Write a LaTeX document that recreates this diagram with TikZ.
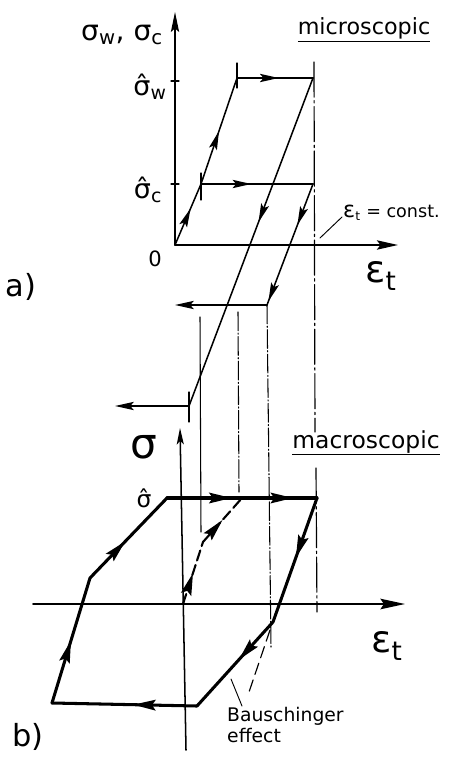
\documentclass[tikz,border=0pt]{standalone}
\usepackage{fontspec}
\setmainfont{DejaVu Sans}
\usetikzlibrary{arrows.meta,decorations.markings}

\tikzset{
  marr/.style={postaction={decorate,decoration={markings,
      mark=at position #1 with {\arrow{Stealth[length=16pt,width=7pt,inset=3pt]}}}}},
  barr/.style={postaction={decorate,decoration={markings,
      mark=at position #1 with {\arrow{Stealth[length=19pt,width=9pt,inset=3pt]}}}}},
  axis/.style={line width=1.3pt},
  micro/.style={line width=1.3pt},
  macro/.style={line width=2.6pt},
  proj/.style={line width=0.9pt,dash pattern=on 16pt off 2pt on 1pt off 2pt},
  lbl/.style={inner sep=0pt,font=\fontsize{#1}{#1}\selectfont}
}

\begin{document}
\begin{tikzpicture}[x=0.03cm,y=-0.03cm,line cap=round,line join=round]
  \useasboundingbox (0,0) rectangle (453,762);
  % a) microscopic
  \coordinate (O) at (175,245);
  \coordinate (Otop) at (175,12);
  \coordinate (Oend) at (398,245);
  \coordinate (Cc) at (201,184);
  \coordinate (Ww) at (237,78);
  \coordinate (Wr) at (313,78);
  \coordinate (Cr) at (313,184);
  \coordinate (Cb) at (267,305);
  \coordinate (Wb) at (189,406);
  \coordinate (Cl) at (175,305);
  \coordinate (Wl) at (115,406);
  \draw[axis,-{Stealth[length=17pt,width=7pt,inset=3pt]}] (O) -- (Otop);
  \draw[axis,-{Stealth[length=18pt,width=8pt,inset=3pt]}] (O) -- (Oend);
  \foreach \y in {81,184}
    \draw[line width=1pt] (171,\y) -- (179,\y);
  \draw[micro,marr=0.6] (O) -- (Cc);
  \draw[micro,marr=0.5] (Cc) -- (Ww);
  \draw[micro,line width=1.7pt,marr=0.55] (Ww) -- (Wr);
  \draw[micro,line width=1.7pt,marr=0.45] (Cc) -- (Cr);
  \draw[micro,marr=0.44] (Wr) -- (Wb);
  \draw[micro,marr=0.34,marr=0.97] (Cr) -- (Cb);
  \draw[micro,-{Stealth[length=16pt,width=7pt,inset=3pt]}] (Cb) -- (Cl);
  \draw[micro,-{Stealth[length=16pt,width=7pt,inset=3pt]}] (Wb) -- (Wl);
  % short bars at the yield points
  \draw[line width=1pt] (237,63) -- (237,88);
  \draw[line width=1pt] (201,173) -- (201,200);
  \draw[line width=1pt] (189,392) -- (189,422);
  % projection lines down to b)
  \draw[line width=0.9pt] (200,317) -- (201,532);
  \draw[proj] (238,312) -- (239,492);
  \draw[proj] (267,305) -- (271,647);
  \draw[line width=1pt,dash pattern=on 30pt off 3pt on 2pt off 3pt] (314,62) -- (315,432);
  \draw[line width=1pt,dash pattern=on 30pt off 3pt on 2pt off 3pt] (316,468) -- (317,612);
  \node[lbl=24] (sa) at (122,35) {σ\textsubscript{w}, σ\textsubscript{c}};
  \node[lbl=23] (sw) at (150,87) {σ̂\textsubscript{w}};
  \node[lbl=23] (sc) at (148,190) {σ̂\textsubscript{c}};
  \node[lbl=18] (zero) at (155,259) {0};
  \node[lbl=19,anchor=base] (micro) at (364,35) {\underline{microscopic}};
  \node[lbl=32] (ea) at (381,276) {ε\textsubscript{t}};
  \node[lbl=15,anchor=west] (const) at (343,213) {{\fontsize{19}{19}\selectfont ε}\textsubscript{t} = const.};
  \coordinate (cl) at (320,238);
  \draw[line width=0.8pt] (const.west) ++(-1,4) -- (cl);
  \node[lbl=26] (pa) at (21,287) {a)};
  % b) macroscopic
  \coordinate (B) at (183,604);
  \coordinate (Btop) at (180,428);
  \coordinate (Bbot) at (186,750);
  \coordinate (Bleft) at (33,604);
  \coordinate (Bend) at (405,604);
  \draw[axis,-{Stealth[length=14pt,width=6pt,inset=3pt]}] (Bbot) -- (Btop);
  \draw[axis,-{Stealth[length=21pt,width=9pt,inset=3pt]}] (Bleft) -- (Bend);
  \coordinate (P1) at (167,498);
  \coordinate (P2) at (317,498);
  \coordinate (P3) at (273,622);
  \coordinate (P4) at (197,706);
  \coordinate (P5) at (52,703);
  \coordinate (P6) at (90,578);
  \coordinate (K) at (203,542);
  \coordinate (T) at (242,498);
  \draw[macro,barr=0.43,barr=0.84] (P1) -- (P2);
  \draw[macro,barr=0.48] (P2) -- (P3);
  \draw[macro,barr=0.45] (P3) -- (P4);
  \draw[macro,barr=0.44] (P4) -- (P5);
  \draw[macro,barr=0.5] (P5) -- (P6);
  \draw[macro,barr=0.46] (P6) -- (P1);
  \draw[line width=1.8pt,dash pattern=on 9pt off 4pt,barr=0.5] (B) -- (K);
  \draw[line width=1.8pt,dash pattern=on 9pt off 4pt,barr=0.5] (K) -- (T);
  \draw[line width=1pt,dash pattern=on 10pt off 5pt] (270,630) -- (248,695);
  \node[lbl=36] (sb) at (144,447) {σ};
  \node[lbl=20] (sh) at (144,498) {σ̂};
  \node[lbl=20,anchor=base] (macro) at (366,448) {\underline{macroscopic}};
  \node[lbl=32] (eb) at (387,646) {ε\textsubscript{t}};
  \node[lbl=26] (pb) at (28,737) {b)};
  \node[lbl=16,anchor=north west,align=left] (bau) at (227,707) {Bauschinger\\[2pt]effect};
  \coordinate (bl) at (231,679);
  \draw[line width=0.8pt] (bl) -- (242,706);
\end{tikzpicture}
\end{document}
